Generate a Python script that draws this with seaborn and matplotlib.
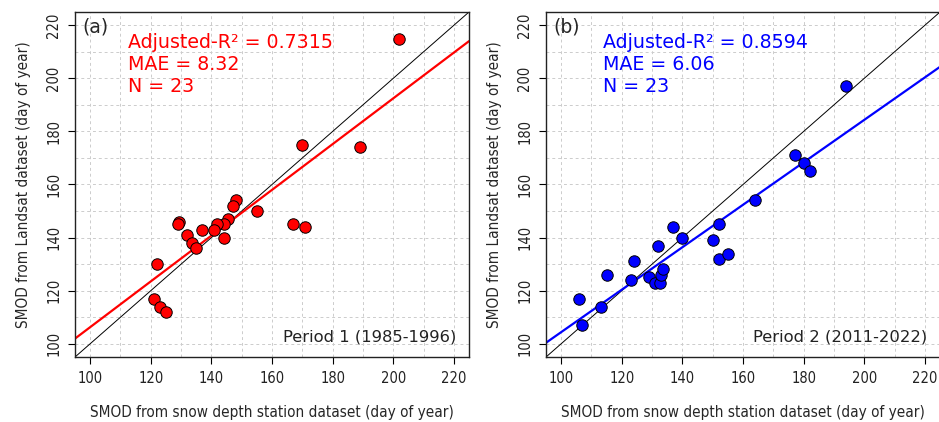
import numpy as np
import pandas as pd
import matplotlib
matplotlib.use('Agg')
import matplotlib.pyplot as plt
import seaborn as sns

# Period 1 (1985-1996): station SMOD vs Landsat SMOD (day of year)
p1_station = [202, 170, 189, 155, 148, 147, 145.4, 144, 142, 141, 144, 137,
              129.4, 129, 132, 133.5, 135, 167, 171, 122, 121, 123, 125]
p1_landsat = [215, 175, 174, 150, 154, 152, 147, 145, 145, 143, 140, 143,
              146, 145, 141, 138, 136, 145, 144, 130, 117, 114, 112]

# Period 2 (2011-2022)
p2_station = [194, 177, 180, 182, 164, 152, 150, 152, 155, 140, 137, 132,
              124, 115, 123, 129, 131, 132.5, 133, 133.5, 106, 113, 107]
p2_landsat = [197, 171, 168, 165, 154, 145, 139, 132, 134, 140, 144, 137,
              131, 126, 124, 125, 123, 123, 126, 128, 117, 114, 107]

panels = [
    dict(tag='(a)', x=p1_station, y=p1_landsat, color='#FF0000',
         stats='Adjusted-R\u00b2 = 0.7315\nMAE = 8.32\nN = 23',
         period='Period 1 (1985-1996)'),
    dict(tag='(b)', x=p2_station, y=p2_landsat, color='#0000FF',
         stats='Adjusted-R\u00b2 = 0.8594\nMAE = 6.06\nN = 23',
         period='Period 2 (2011-2022)'),
]

sns.set_style('white')
plt.rcParams['font.family'] = ['DejaVu Sans']

fig = plt.figure(figsize=(9.39, 4.22), dpi=100)
axes = [fig.add_axes([0.0799, 0.154, 0.4196, 0.8176]),
        fig.add_axes([0.5815, 0.154, 0.4196, 0.8176])]

ticks = np.arange(100, 221, 20)
minor = np.arange(100, 221, 10)

for ax, p, sx in zip(axes, panels, [0.135, 0.145]):
    df = pd.DataFrame({'station': p['x'], 'landsat': p['y']})
    ax.set_xlim(95, 225)
    ax.set_ylim(95, 225)

    for v in minor:
        ax.axvline(v, color='#cccccc', lw=0.7, ls=(0, (3, 3)), zorder=0)
        ax.axhline(v, color='#cccccc', lw=0.7, ls=(0, (3, 3)), zorder=0)

    ax.axline((100, 100), slope=1, color='black', lw=0.7, zorder=1)

    sns.regplot(data=df, x='station', y='landsat', ax=ax, ci=None,
                truncate=False, color=p['color'],
                line_kws=dict(lw=1.6, zorder=2),
                scatter_kws=dict(s=68, edgecolor='black', linewidths=0.7,
                                 alpha=1, zorder=3))
    ax.set_xlim(95, 225)
    ax.set_ylim(95, 225)

    ax.set_xticks(ticks)
    ax.set_yticks(ticks)
    ax.tick_params(direction='out', length=5, width=0.8, colors='black',
                   labelsize=10.5, pad=5, bottom=True, left=True)
    for lab in ax.get_yticklabels():
        lab.set_rotation(90)
        lab.set_va('center')
    for lab in ax.get_xticklabels() + ax.get_yticklabels():
        lab.set_fontstretch('condensed')
        lab.set_color('#222222')

    for s in ax.spines.values():
        s.set_color('#222222')
        s.set_linewidth(1.0)

    ax.set_xlabel('SMOD from snow depth station dataset (day of year)',
                  fontsize=11, fontstretch='condensed', labelpad=14)
    ax.set_ylabel('SMOD from Landsat dataset (day of year)',
                  fontsize=11, fontstretch='condensed', labelpad=11)

    ax.text(0.018, 0.985, p['tag'], transform=ax.transAxes, fontsize=13.5,
            va='top', ha='left')
    ax.text(sx, 0.94, p['stats'], transform=ax.transAxes, fontsize=13.7,
            va='top', ha='left', color=p['color'], linespacing=1.2)
    ax.text(0.967, 0.035, p['period'], transform=ax.transAxes, fontsize=11.8,
            va='bottom', ha='right', color='#222222')

fig.savefig('out.png', dpi=100)
